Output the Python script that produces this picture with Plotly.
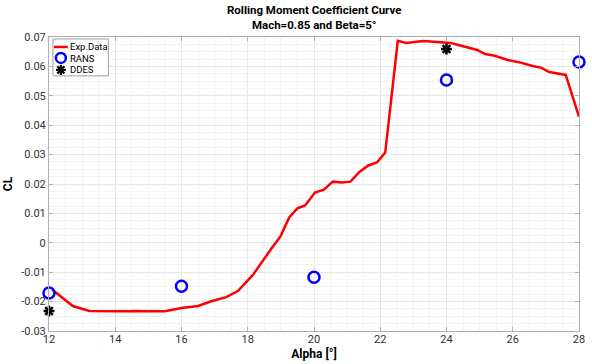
import plotly.graph_objects as go

# Experimental data
exp_alpha = [12.1, 12.42, 12.72, 13.22, 13.5, 14.0, 14.4, 14.6, 15.0, 15.3, 15.5, 16.0, 16.5, 16.9,
             17.35, 17.7, 18.15, 18.7, 18.99, 19.25, 19.5, 19.73, 20.03, 20.3, 20.57, 20.84, 21.1,
             21.38, 21.64, 21.9, 22.15, 22.53, 22.78, 23.3, 23.88, 24.12, 24.36, 24.66, 24.93,
             25.16, 25.46, 25.85, 26.27, 26.57, 26.87, 27.1, 27.34, 27.6, 28.0]
exp_cl = [-0.016, -0.0188, -0.0215, -0.0232, -0.0233, -0.0233, -0.0233, -0.0232, -0.0233, -0.0234,
          -0.0233, -0.0222, -0.0215, -0.0199, -0.0185, -0.0164, -0.0110, -0.0022, 0.0022, 0.0086,
          0.0117, 0.0127, 0.0171, 0.0181, 0.0208, 0.0205, 0.0208, 0.0242, 0.0263, 0.0273, 0.0307,
          0.0687, 0.0680, 0.0686, 0.0683, 0.0680, 0.0673, 0.0663, 0.0656, 0.0642, 0.0636, 0.0622,
          0.0612, 0.0602, 0.0595, 0.0581, 0.0575, 0.0571, 0.0429]

rans_alpha = [12, 16, 20, 24, 28]
rans_cl = [-0.0171, -0.0148, -0.0117, 0.0554, 0.0615]

ddes_alpha = [12, 24]
ddes_cl = [-0.0232, 0.0659]

x_ticks = [12, 14, 16, 18, 20, 22, 24, 26, 28]
y_ticks = [-0.03, -0.02, -0.01, 0, 0.01, 0.02, 0.03, 0.04, 0.05, 0.06, 0.07]
y_tick_text = ["-0.03", "-0.02", "-0.01", "0", "0.01", "0.02", "0.03", "0.04", "0.05", "0.06", "0.07"]

legend_names = ["Exp.Data", "RANS", "DDES"]
title_text = "<b>Rolling Moment Coefficient Curve<br>Mach=0.85 and Beta=5°</b>"

W, H = 592, 364
ML, MR, MT, MB = 49, 7, 37, 32
PW, PH = W - ML - MR, H - MT - MB


def px(x):
    return (x - ML) / PW


def py(y):
    return (H - MB - y) / PH


fig = go.Figure()
fig.add_trace(go.Scatter(x=exp_alpha, y=exp_cl, mode="lines", name=legend_names[0],
                         line=dict(color="#ff0000", width=2.5), cliponaxis=False))
fig.add_trace(go.Scatter(x=rans_alpha, y=rans_cl, mode="markers", name=legend_names[1],
                         marker=dict(symbol="circle-open", size=11, color="#0000ff",
                                     line=dict(width=2.5, color="#0000ff")), cliponaxis=False))
fig.add_trace(go.Scatter(x=ddes_alpha, y=ddes_cl, mode="markers", name=legend_names[2],
                         marker=dict(symbol="asterisk-open", size=9, color="#000000",
                                     line=dict(width=2.5, color="#000000")), cliponaxis=False))

axis_common = dict(
    showline=True, linecolor="#b0b0b0", linewidth=1, mirror="ticks",
    ticks="inside", ticklen=4, tickcolor="#b0b0b0",
    showgrid=True, gridcolor="#e6e6e6", gridwidth=1, zeroline=False,
    tickfont=dict(family="Roboto", size=11, color="#333333"),
)

# Compact MATLAB-like legend box drawn in paper coordinates
shapes = [
    dict(type="rect", xref="paper", yref="paper", x0=px(53), x1=px(109), y0=py(76), y1=py(39),
         fillcolor="white", line=dict(color="#a0a0a0", width=1), layer="above"),
    dict(type="line", xref="paper", yref="paper", x0=px(54), x1=px(68), y0=py(47), y1=py(47),
         line=dict(color="#ff0000", width=2.5), layer="above"),
    dict(type="circle", xref="paper", yref="paper", x0=px(56), x1=px(66), y0=py(63), y1=py(53),
         line=dict(color="#0000ff", width=2.5), layer="above"),
]
cx, cy, r, d = 61, 70, 5, 3.6
for (ax, ay, bx, by) in [(cx, cy - r, cx, cy + r), (cx - r, cy, cx + r, cy),
                         (cx - d, cy - d, cx + d, cy + d), (cx - d, cy + d, cx + d, cy - d)]:
    shapes.append(dict(type="line", xref="paper", yref="paper", x0=px(ax), x1=px(bx),
                       y0=py(ay), y1=py(by), line=dict(color="#000000", width=2.2), layer="above"))

annotations = []
for name, yy in zip(legend_names, [47, 58.5, 70]):
    annotations.append(dict(text=name, xref="paper", yref="paper", x=px(68.5), y=py(yy),
                            xanchor="left", yanchor="middle", showarrow=False,
                            font=dict(family="Roboto", size=9.5, color="#000000")))

annotations.append(dict(text=title_text, xref="paper", yref="paper", x=0.5, y=1,
                        xanchor="center", yanchor="bottom", yshift=3, showarrow=False,
                        align="center",
                        font=dict(family="Roboto", size=11.5, color="#000000")))

fig.update_layout(
    width=W, height=H,
    margin=dict(l=ML, r=MR, t=MT, b=MB),
    paper_bgcolor="white", plot_bgcolor="white",
    xaxis=dict(range=[12, 28], tickvals=x_ticks, ticktext=[str(v) for v in x_ticks],
               ticklabelstandoff=-2,
               minor=dict(dtick=0.5, showgrid=True, gridcolor="#f3f3f3", ticks=""),
               title=dict(text="<b>Alpha [°]</b>", standoff=2,
                          font=dict(family="Roboto", size=12, color="#000000")),
               **axis_common),
    yaxis=dict(range=[-0.03, 0.07], tickvals=y_ticks, ticktext=y_tick_text,
               minor=dict(dtick=0.0025, showgrid=True, gridcolor="#f3f3f3", ticks=""),
               title=dict(text="<b>CL</b>", standoff=6,
                          font=dict(family="Roboto", size=12, color="#000000")),
               **axis_common),
    shapes=shapes,
    annotations=annotations,
    showlegend=False,
)

fig.write_html("out.html")
